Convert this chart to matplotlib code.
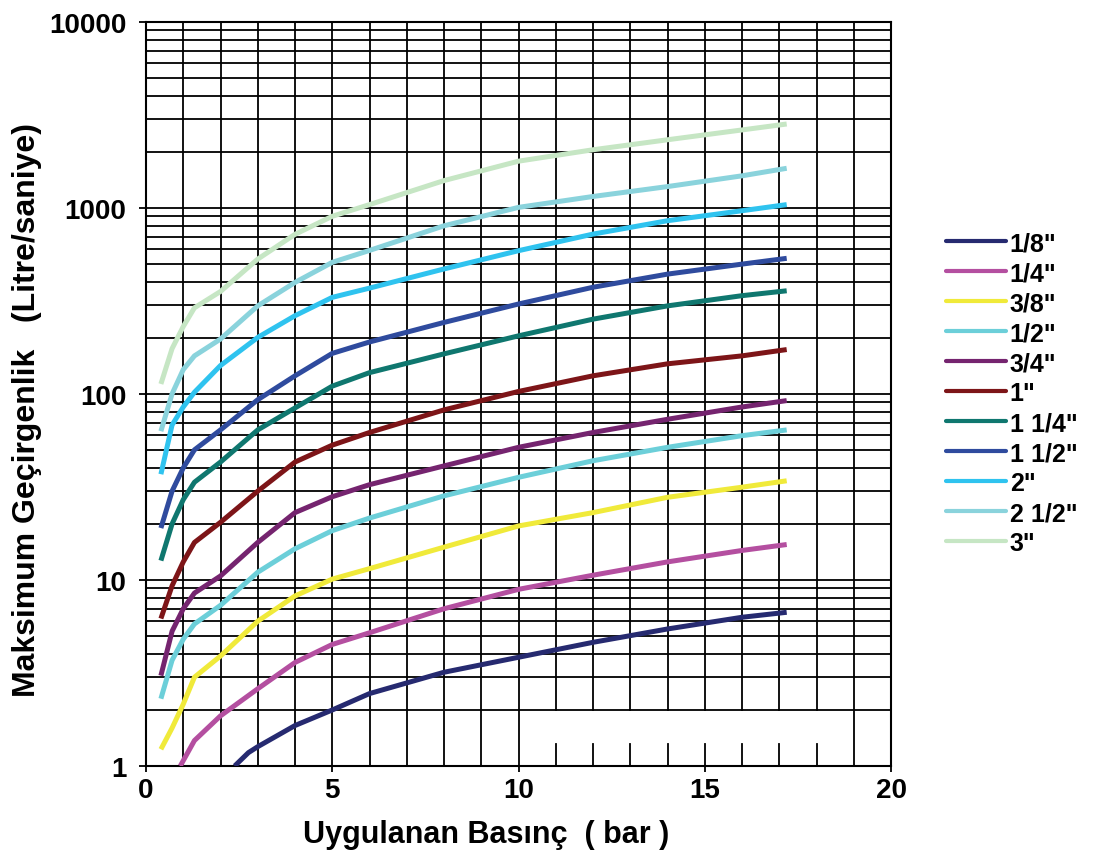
import numpy as np
import matplotlib
matplotlib.use("Agg")
import matplotlib.pyplot as plt

plt.rcParams['font.family'] = ['Liberation Sans', 'DejaVu Sans']
plt.rcParams['font.weight'] = 'bold'

# ---- data (pressure in bar, flow in litre/second) ----
pressure = [0.4, 0.7, 1.0, 1.3, 2, 3, 4, 5, 6, 8, 10, 12, 14, 16, 17.2]
pressure_quarter = [0.92, 1.3, 2, 3, 4, 5, 6, 8, 10, 12, 14, 16, 17.2]
pressure_eighth = [2.38, 2.75, 3, 4, 5, 6, 8, 10, 12, 14, 16, 17.2]

q_1_8 = [1.0, 1.18, 1.27, 1.65, 2.0, 2.45, 3.19, 3.84, 4.62, 5.45, 6.3, 6.7]
q_1_4 = [1.0, 1.37, 1.86, 2.6, 3.6, 4.5, 5.2, 7.0, 8.9, 10.6, 12.5, 14.4, 15.5]
q_3_8 = [1.23, 1.6, 2.15, 3.0, 3.9, 6.0, 8.2, 10.1, 11.5, 15, 19.5, 23, 27.8, 31.5, 34.1]
q_1_2 = [2.3, 3.7, 4.8, 5.8, 7.3, 11, 14.7, 18.4, 21.5, 28.3, 35.6, 43.7, 51.6, 59.6, 64]
q_3_4 = [3.06, 5.3, 7.0, 8.5, 10.5, 15.9, 23, 28, 32.5, 41, 51.6, 62, 73, 85, 92]
q_1 = [6.2, 9.3, 12.5, 15.9, 20.4, 30, 43, 53, 62, 82, 103, 125, 145, 160, 173]
q_1_1_4 = [12.7, 20, 27, 33.5, 43, 64, 84, 110, 130, 164, 205, 252, 297, 337, 358]
q_1_1_2 = [19, 30, 40, 50, 64, 93, 125, 165, 190, 242, 304, 374, 440, 498, 535]
q_2 = [37, 68, 85, 102, 142, 201, 263, 330, 370, 469, 588, 722, 852, 964, 1040]
q_2_1_2 = [63, 100, 135, 160, 197, 297, 397, 509, 590, 800, 1005, 1150, 1300, 1485, 1630]
q_3 = [113, 175, 230, 290, 355, 530, 720, 900, 1040, 1400, 1780, 2050, 2320, 2620, 2820]

labels = ['1/8"', '1/4"', '3/8"', '1/2"', '3/4"', '1"', '1 1/4"', '1 1/2"', '2"', '2 1/2"', '3"']
colors = ['#262a70', '#b44fa0', '#f0ea3a', '#6ccfd9', '#75246f', '#7d1518',
          '#0f776f', '#2f4b9e', '#2fc3ef', '#8ad3dc', '#c6e6c4']
series_x = [pressure_eighth, pressure_quarter] + [pressure] * 9
series_y = [q_1_8, q_1_4, q_3_8, q_1_2, q_3_4, q_1, q_1_1_4, q_1_1_2, q_2, q_2_1_2, q_3]

x_ticks = [0, 5, 10, 15, 20]
y_ticks = [1, 10, 100, 1000, 10000]
y_ticklabels = ['1', '10', '100', '1000', '10000']

# ---- figure ----
W, H = 1099, 853
fig = plt.figure(figsize=(W / 100, H / 100), dpi=100)
ax = fig.add_axes([146 / W, 1 - 767 / H, (891 - 146) / W, (767 - 22.7) / H])
ax.set_yscale('log')
ax.set_xlim(0, 20)
ax.set_ylim(1, 10000)

grid_kw = dict(color='black', linewidth=1.3, zorder=1)
# horizontal grid (major + minor on log scale)
for dec in [1, 10, 100, 1000]:
    for m in range(1, 10):
        v = dec * m
        if v > 1:
            ax.axhline(v, **grid_kw)
# vertical grid
y2 = np.log10(2) / 4
for xv in range(1, 20):
    if 11 <= xv <= 18:
        ax.axvline(xv, ymin=y2, ymax=1, **grid_kw)
        ax.axvline(xv, ymin=0, ymax=0.03, **grid_kw)
    else:
        ax.axvline(xv, **grid_kw)

for xs, ys, c, lab in zip(series_x, series_y, colors, labels):
    ax.plot(xs, ys, color=c, linewidth=3.6, label=lab, zorder=3,
            solid_capstyle='butt', solid_joinstyle='round')

for s in ax.spines.values():
    s.set_linewidth(1.5)
    s.set_color('black')

ax.set_xticks(x_ticks)
ax.set_xticklabels([str(t) for t in x_ticks])
ax.set_yticks(y_ticks)
ax.set_yticklabels(y_ticklabels)
ax.yaxis.set_minor_locator(matplotlib.ticker.NullLocator())
ax.tick_params(axis='x', which='major', direction='out', length=4, width=1.3,
               labelsize=20, pad=4)
ax.tick_params(axis='y', which='major', direction='out', length=5, width=1.3,
               labelsize=20, pad=9)
for t in ax.get_xticklabels() + ax.get_yticklabels():
    t.set_fontweight('bold')

fig.text(303 / W, 1 - 843 / H, 'Uygulanan Basınç  ( bar )', ha='left', va='baseline',
         fontsize=22, fontweight='bold')
fig.text(35 / W, 1 - 697 / H, 'Maksimum Geçirgenlik   (Litre/saniye)', ha='left',
         va='baseline', rotation=90, rotation_mode='anchor', fontsize=23, fontweight='bold')

leg = fig.legend(loc='upper left', bbox_to_anchor=(946 / W, 1 - 232 / H),
                 frameon=False, fontsize=18, handlelength=2.4, handletextpad=0.15,
                 labelspacing=0.24, borderpad=0, borderaxespad=0)
for line in leg.get_lines():
    line.set_linewidth(3.0)
    line.set_solid_capstyle('round')
for t in leg.get_texts():
    t.set_fontweight('bold')

fig.savefig('out.png', dpi=100)
